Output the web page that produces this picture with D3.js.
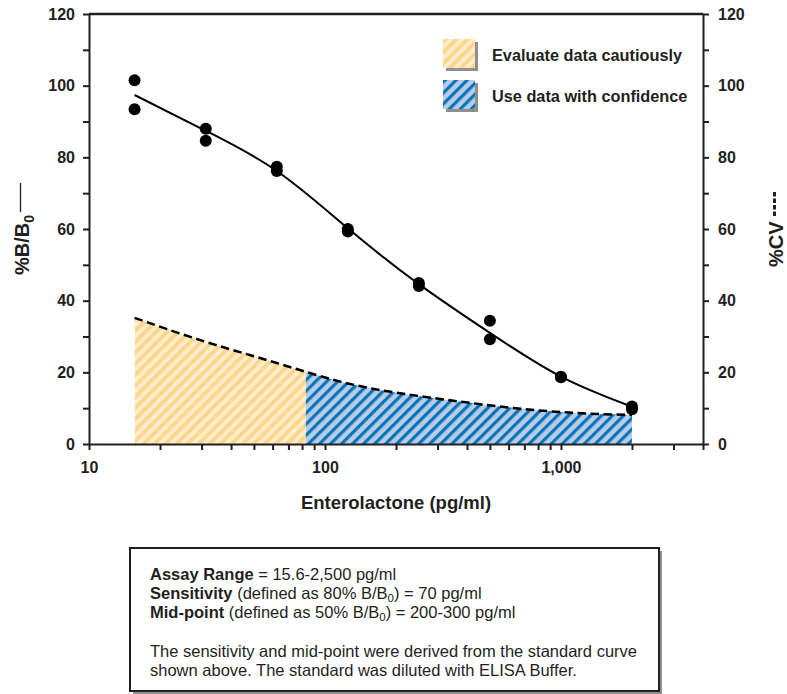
<!DOCTYPE html>
<html>
<head>
<meta charset="utf-8">
<script src="https://cdn.jsdelivr.net/npm/d3@7"></script>
<style>
  body { margin: 0; background: #fff; }
  text { font-family: "Liberation Sans", Arial, sans-serif; fill: #231f20; }
  .axis path, .axis line { stroke: #231f20; stroke-width: 2; }
  .axis text { font-size: 16px; font-weight: bold; fill: #231f20; }
</style>
</head>
<body>
<div id="chart-area"></div>
<script>

// SVG Size
var width = 787,
    height = 694;

// Standard concentrations (pg/ml) and duplicate %B/B0 readings
var conc = [15.6, 31.25, 62.5, 125, 250, 500, 1000, 2000];
var rep1 = [101.5, 88.0, 77.4, 60.0, 44.9, 34.4, 18.8, 10.5];
var rep2 = [93.4, 84.6, 76.2, 59.3, 44.1, 29.2, 18.6, 9.7];

// Fitted standard curve (%B/B0) and %CV curve at the same concentrations
var fitCurve = [97.4, 87.4, 76.2, 60.2, 44.6, 31.0, 18.8, 10.4];
var cvCurve = [35.2, 28.5, 22.6, 16.9, 13.4, 10.8, 8.9, 8.1];

// Where "cautious" zone ends and "confidence" zone begins (pg/ml)
var zoneSplit = 83;

// Ticks
var xTicks = [10, 20, 30, 40, 50, 60, 70, 80, 90, 100, 200, 300, 400, 500, 600, 700, 800, 900, 1000, 2000, 3000, 4000];
var xLabels = { 10: "10", 100: "100", 1000: "1,000" };
var yTicks = [0, 10, 20, 30, 40, 50, 60, 70, 80, 90, 100, 110, 120];

var legendLabels = ["Evaluate data cautiously", "Use data with confidence"];

// Plot box
var plotL = 89, plotR = 703, plotT = 14, plotB = 444;

var svg = d3.select("#chart-area").append("svg")
    .attr("width", width)
    .attr("height", height);

// Hatch patterns
var defs = svg.append("defs");
var hp = 7.8;
function hatch(id, bg, stripe, w) {
  var p = defs.append("pattern")
      .attr("id", id)
      .attr("patternUnits", "userSpaceOnUse")
      .attr("width", hp)
      .attr("height", hp)
      .attr("patternTransform", "rotate(45)");
  p.append("rect").attr("width", hp).attr("height", hp).attr("fill", bg);
  p.append("rect").attr("width", w).attr("height", hp).attr("fill", stripe);
}
hatch("hatch-yellow", "#fdedcd", "#fdd68c", 3.8);
hatch("hatch-blue", "#b7cde7", "#0a73ba", 3.2);

// Scales
var x = d3.scaleLog()
    .domain([10, 4000])
    .range([plotL, plotR]);

var y = d3.scaleLinear()
    .domain([0, 120])
    .range([plotB, plotT]);

// Clip zones
defs.append("clipPath").attr("id", "clip-caution")
  .append("rect")
    .attr("x", x(conc[0]))
    .attr("y", plotT)
    .attr("width", x(zoneSplit) - x(conc[0]))
    .attr("height", plotB - plotT);
defs.append("clipPath").attr("id", "clip-confidence")
  .append("rect")
    .attr("x", x(zoneSplit))
    .attr("y", plotT)
    .attr("width", plotR - x(zoneSplit))
    .attr("height", plotB - plotT);

var cvData = conc.map(function(c, i) { return { c: c, v: cvCurve[i] }; });

var area = d3.area()
    .x(function(d) { return x(d.c); })
    .y0(y(0))
    .y1(function(d) { return y(d.v); })
    .curve(d3.curveNatural);

svg.append("path")
    .datum(cvData)
    .attr("d", area)
    .attr("fill", "url(#hatch-yellow)")
    .attr("clip-path", "url(#clip-caution)");

svg.append("path")
    .datum(cvData)
    .attr("d", area)
    .attr("fill", "url(#hatch-blue)")
    .attr("clip-path", "url(#clip-confidence)");

// CV dashed line
var cvLine = d3.line()
    .x(function(d) { return x(d.c); })
    .y(function(d) { return y(d.v); })
    .curve(d3.curveNatural);

svg.append("path")
    .datum(cvData)
    .attr("d", cvLine)
    .attr("fill", "none")
    .attr("stroke", "#000")
    .attr("stroke-width", 2.5)
    .attr("stroke-dasharray", "8.5,4.5");

// Frame (top line)
svg.append("line")
    .attr("x1", plotL).attr("x2", plotR)
    .attr("y1", plotT).attr("y2", plotT)
    .attr("stroke", "#231f20")
    .attr("stroke-width", 2.5);

// Axes
svg.append("g")
    .attr("class", "axis")
    .attr("transform", "translate(0," + plotB + ")")
    .call(d3.axisBottom(x)
      .tickValues(xTicks)
      .tickSize(6)
      .tickSizeOuter(0)
      .tickPadding(12)
      .tickFormat(function(d) { return xLabels[d] || ""; }));

svg.append("g")
    .attr("class", "axis")
    .attr("transform", "translate(" + plotL + ",0)")
    .call(d3.axisLeft(y)
      .tickValues(yTicks)
      .tickSize(6)
      .tickSizeOuter(0)
      .tickPadding(8)
      .tickFormat(function(d) { return d % 20 === 0 ? d : ""; }));

svg.append("g")
    .attr("class", "axis")
    .attr("transform", "translate(" + plotR + ",0)")
    .call(d3.axisRight(y)
      .tickValues(yTicks)
      .tickSize(6)
      .tickSizeOuter(0)
      .tickPadding(9)
      .tickFormat(function(d) { return d % 20 === 0 ? d : ""; }));

svg.selectAll(".axis .domain").attr("stroke-width", 2.5);

// Standard curve
var fitData = conc.map(function(c, i) { return { c: c, v: fitCurve[i] }; });
svg.append("path")
    .datum(fitData)
    .attr("d", d3.line()
      .x(function(d) { return x(d.c); })
      .y(function(d) { return y(d.v); })
      .curve(d3.curveNatural))
    .attr("fill", "none")
    .attr("stroke", "#000")
    .attr("stroke-width", 2);

// Data points
var points = [];
conc.forEach(function(c, i) {
  points.push({ c: c, v: rep1[i] });
  points.push({ c: c, v: rep2[i] });
});
svg.selectAll("circle.pt")
    .data(points)
    .enter()
    .append("circle")
    .attr("class", "pt")
    .attr("cx", function(d) { return x(d.c); })
    .attr("cy", function(d) { return y(d.v); })
    .attr("r", 6)
    .attr("fill", "#000");

// Legend
var legend = svg.selectAll("g.legend")
    .data(legendLabels)
    .enter()
    .append("g")
    .attr("class", "legend")
    .attr("transform", function(d, i) { return "translate(443," + (39 + i * 41) + ")"; });

legend.append("rect")
    .attr("x", 3).attr("y", 3)
    .attr("width", 32).attr("height", 29)
    .attr("fill", "#8f8f8f");
legend.append("rect")
    .attr("width", 32).attr("height", 29)
    .attr("fill", function(d, i) { return i === 0 ? "url(#hatch-yellow)" : "url(#hatch-blue)"; });
legend.append("text")
    .attr("x", 49)
    .attr("y", 22)
    .attr("font-size", "16.3px")
    .attr("font-weight", "bold")
    .text(function(d) { return d; });

// X axis title
svg.append("text")
    .attr("x", (plotL + plotR) / 2)
    .attr("y", 509)
    .attr("text-anchor", "middle")
    .attr("font-size", "18.5px")
    .attr("font-weight", "bold")
    .text("Enterolactone (pg/ml)");

// Left axis title: %B/B0 with solid line key
var yl = svg.append("g").attr("transform", "translate(29,275) rotate(-90)");
var ylt = yl.append("text")
    .attr("font-size", "20px")
    .attr("font-weight", "bold");
ylt.append("tspan").text("%B/B");
ylt.append("tspan").attr("dy", 5).attr("font-size", "14px").text("0");
yl.append("line")
    .attr("x1", 63).attr("x2", 92)
    .attr("y1", -8.5).attr("y2", -8.5)
    .attr("stroke", "#231f20").attr("stroke-width", 1.3);

// Right axis title: %CV with dashed line key
var yr = svg.append("g").attr("transform", "translate(783,267) rotate(-90)");
yr.append("text")
    .attr("font-size", "20px")
    .attr("font-weight", "bold")
    .text("%CV");
yr.append("line")
    .attr("x1", 51).attr("x2", 75)
    .attr("y1", -8.5).attr("y2", -8.5)
    .attr("stroke", "#231f20").attr("stroke-width", 3)
    .attr("stroke-dasharray", "4.5,2");

// Info box
var box = svg.append("g");
box.append("rect")
    .attr("x", 133).attr("y", 551)
    .attr("width", 529).attr("height", 143)
    .attr("fill", "#8f8f8f");
box.append("rect")
    .attr("x", 130).attr("y", 548)
    .attr("width", 529).attr("height", 143)
    .attr("fill", "#fff")
    .attr("stroke", "#231f20")
    .attr("stroke-width", 2);

var infoLines = [
  [["b", "Assay Range"], ["", " = 15.6-2,500 pg/ml"]],
  [["b", "Sensitivity"], ["", " (defined as 80% B/B"], ["s", "0"], ["", ") = 70 pg/ml"]],
  [["b", "Mid-point"], ["", " (defined as 50% B/B"], ["s", "0"], ["", ") = 200-300 pg/ml"]],
  [],
  [["", "The sensitivity and mid-point were derived from the standard curve"]],
  [["", "shown above. The standard was diluted with ELISA Buffer."]]
];

infoLines.forEach(function(line, i) {
  var t = box.append("text")
      .attr("x", 150)
      .attr("y", 580 + i * 19.2)
      .attr("font-size", "16.5px");
  var shifted = false;
  line.forEach(function(part) {
    var ts = t.append("tspan").text(part[1]);
    if (part[0] === "b") ts.attr("font-weight", "bold");
    if (part[0] === "s") { ts.attr("dy", 3).attr("font-size", "11.5px"); shifted = true; }
    else if (shifted) { ts.attr("dy", -3); shifted = false; }
  });
});

</script>
</body>
</html>
